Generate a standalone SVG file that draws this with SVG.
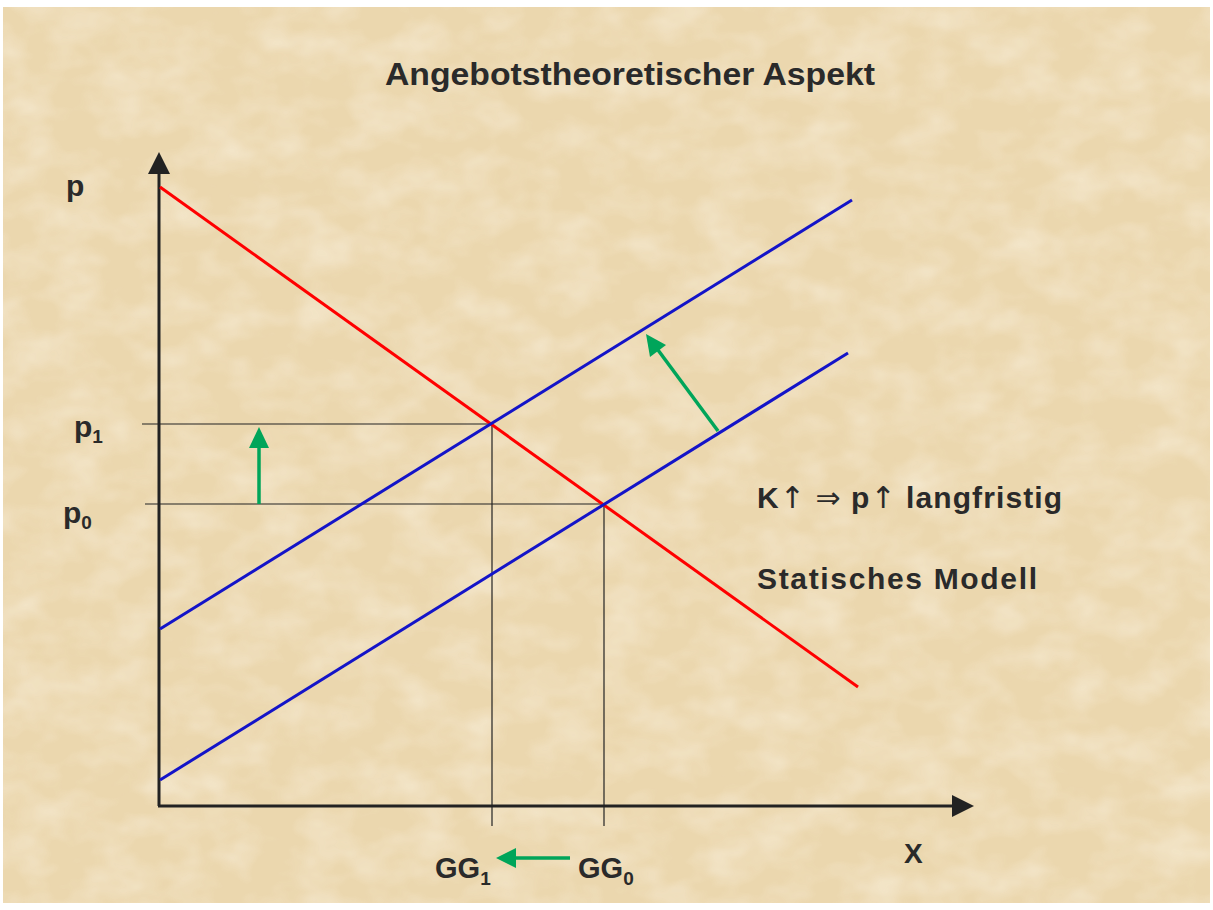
<svg xmlns="http://www.w3.org/2000/svg" width="1213" height="910" viewBox="0 0 1213 910">
<defs>
<filter id="tex" x="0" y="0" width="100%" height="100%">
<feTurbulence type="fractalNoise" baseFrequency="0.02 0.03" numOctaves="3" seed="7" result="n"/>
<feColorMatrix in="n" type="matrix" values="0 0 0 0 0.96  0 0 0 0 0.89  0 0 0 0 0.76  0 0 0 1.2 -0.45" result="c"/>
<feComposite in="c" in2="SourceGraphic" operator="in"/>
</filter>
</defs>
<style>
.t{font-family:"Liberation Sans",Arial,sans-serif;font-weight:bold;fill:#2a2a2a}
.sym{font-family:"DejaVu Sans",sans-serif;font-weight:normal}
.ax{stroke:#222;stroke-width:3;fill:none}
.thin{stroke:#222;stroke-width:1.2;fill:none}
.red{stroke:#ff0000;stroke-width:3;fill:none}
.blue{stroke:#1414c8;stroke-width:3;fill:none}
.grn{stroke:#00a55a;stroke-width:3.5;fill:none}
.gh{fill:#00a55a}
.kh{fill:#222}
</style>
<rect x="0" y="0" width="1213" height="910" fill="#ffffff"/>
<rect x="3" y="7" width="1207" height="896" fill="#ebd7ae"/>
<rect x="3" y="7" width="1207" height="896" fill="#ebd7ae" filter="url(#tex)" opacity="0.8"/>
<g id="title"><text class="t" x="630" y="85" font-size="32" text-anchor="middle" textLength="490" lengthAdjust="spacingAndGlyphs">Angebotstheoretischer Aspekt</text></g>
<g id="connectors">
<line class="ax" x1="159" y1="806" x2="159" y2="174"/>
<path class="kh" d="M148,174 L159,152 L170,174 z"/>
<line class="ax" x1="158" y1="806" x2="952" y2="806"/>
<path class="kh" d="M952,795 L974,806 L952,817 z"/>
<line class="thin" x1="142" y1="424" x2="492" y2="424"/>
<line class="thin" x1="145" y1="504" x2="604" y2="504"/>
<line class="thin" x1="492" y1="424" x2="492" y2="826"/>
<line class="thin" x1="604" y1="504" x2="604" y2="826"/>
<line class="red" x1="160" y1="187" x2="858" y2="687"/>
<line class="blue" x1="160" y1="629" x2="852" y2="200"/>
<line class="blue" x1="160" y1="780" x2="848" y2="353"/>
<line class="grn" x1="259" y1="504" x2="259" y2="447"/>
<path class="gh" d="M249,448 L259,427 L269,448 z"/>
<line class="grn" x1="718" y1="431" x2="658" y2="350"/>
<path class="gh" d="M650,357 L646,334 L666,345 z"/>
<line class="grn" x1="570" y1="858" x2="515" y2="858"/>
<path class="gh" d="M516,848 L496,858 L516,868 z"/>
</g>
<g id="labels">
<text class="t" x="66" y="196" font-size="30">p</text>
<text class="t" x="74" y="437" font-size="30">p<tspan font-size="19" dy="6">1</tspan></text>
<text class="t" x="63" y="523" font-size="30">p<tspan font-size="19" dy="6">0</tspan></text>
<text class="t" x="757" y="508" font-size="30" textLength="305" lengthAdjust="spacing">K<tspan class="sym">↑</tspan> <tspan class="sym">⇒</tspan> p<tspan class="sym">↑</tspan> langfristig</text>
<text class="t" x="757" y="589" font-size="30" textLength="280" lengthAdjust="spacing">Statisches Modell</text>
<text class="t" x="435" y="878" font-size="29">GG<tspan font-size="19" dy="7">1</tspan></text>
<text class="t" x="578" y="878" font-size="29">GG<tspan font-size="19" dy="7">0</tspan></text>
<text class="t" x="904" y="863" font-size="28">X</text>
</g>
</svg>
